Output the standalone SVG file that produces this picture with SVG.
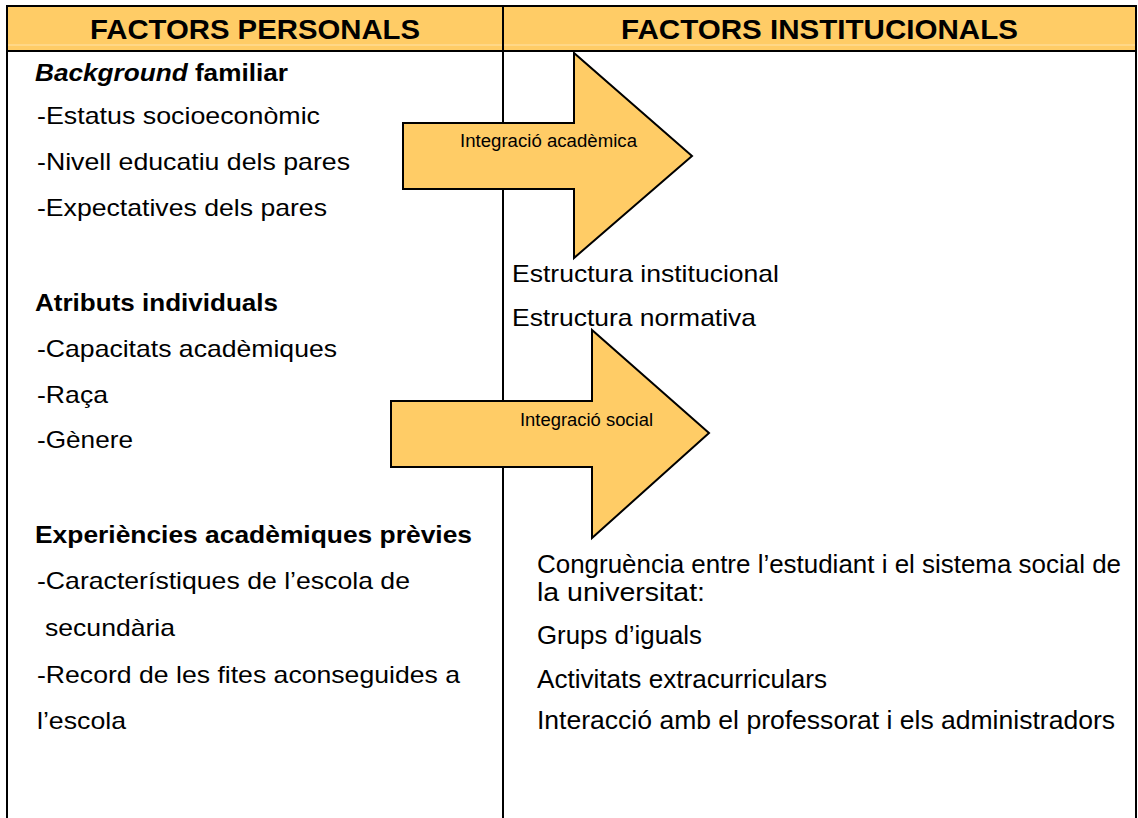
<svg xmlns="http://www.w3.org/2000/svg" width="1138" height="818" viewBox="0 0 1138 818">
<style>
text{font-family:"Liberation Sans",Arial,sans-serif;fill:#000}
.hd{font-size:28px;font-weight:bold}
.b{font-size:24px}
.bb{font-size:24px;font-weight:bold}
.r{font-size:26px}
.ar{font-size:17.5px}
.arrow{fill:#FFCC66;stroke:#000;stroke-width:2;stroke-linejoin:miter}
.grid{stroke:#000;stroke-width:2;fill:none}
</style>
<rect x="0" y="0" width="1138" height="818" fill="#fff"/>
<g id="table">
<rect x="7" y="6" width="1129" height="45" fill="#FFCC66"/>
<line x1="8" y1="45" x2="1135" y2="45" stroke="#FFE3A8" stroke-width="1"/>
<path class="grid" d="M7 818 V6 H1136 V818 M7 51 H1136 M503 6 V818"/>
</g>
<g id="header-personals"><text class="hd" x="90" y="39" textLength="330" lengthAdjust="spacingAndGlyphs">FACTORS PERSONALS</text></g>
<g id="header-institucionals"><text class="hd" x="621" y="39" textLength="397" lengthAdjust="spacingAndGlyphs">FACTORS INSTITUCIONALS</text></g>
<g id="personals">
<text class="bb" x="35" y="81" textLength="253" lengthAdjust="spacingAndGlyphs"><tspan font-style="italic">Background</tspan> familiar</text>
<text class="b" x="37" y="124" textLength="283" lengthAdjust="spacingAndGlyphs">-Estatus socioeconòmic</text>
<text class="b" x="37" y="170" textLength="313" lengthAdjust="spacingAndGlyphs">-Nivell educatiu dels pares</text>
<text class="b" x="37" y="216" textLength="290" lengthAdjust="spacingAndGlyphs">-Expectatives dels pares</text>
<text class="bb" x="35" y="311" textLength="243" lengthAdjust="spacingAndGlyphs">Atributs individuals</text>
<text class="b" x="37" y="357" textLength="300" lengthAdjust="spacingAndGlyphs">-Capacitats acadèmiques</text>
<text class="b" x="37" y="403" textLength="71" lengthAdjust="spacingAndGlyphs">-Raça</text>
<text class="b" x="37" y="448" textLength="96" lengthAdjust="spacingAndGlyphs">-Gènere</text>
<text class="bb" x="35" y="543" textLength="437" lengthAdjust="spacingAndGlyphs">Experiències acadèmiques prèvies</text>
<text class="b" x="37" y="589" textLength="373" lengthAdjust="spacingAndGlyphs">-Característiques de l’escola de</text>
<text class="b" x="45" y="636" textLength="130" lengthAdjust="spacingAndGlyphs">secundària</text>
<text class="b" x="37" y="683" textLength="423" lengthAdjust="spacingAndGlyphs">-Record de les fites aconseguides a</text>
<text class="b" x="37" y="729" textLength="89" lengthAdjust="spacingAndGlyphs">l’escola</text>
</g>
<g id="institucionals">
<text class="b" x="512" y="282" textLength="267" lengthAdjust="spacingAndGlyphs">Estructura institucional</text>
<text class="b" x="512" y="326" textLength="244" lengthAdjust="spacingAndGlyphs">Estructura normativa</text>
<text class="r" x="537" y="573" textLength="584" lengthAdjust="spacingAndGlyphs">Congruència entre l’estudiant i el sistema social de</text>
<text class="r" x="537" y="601" textLength="168" lengthAdjust="spacingAndGlyphs">la universitat:</text>
<text class="r" x="537" y="644" textLength="165" lengthAdjust="spacingAndGlyphs">Grups d’iguals</text>
<text class="r" x="537" y="688" textLength="290" lengthAdjust="spacingAndGlyphs">Activitats extracurriculars</text>
<text class="r" x="537" y="729" textLength="578" lengthAdjust="spacingAndGlyphs">Interacció amb el professorat i els administradors</text>
</g>
<g id="connectors">
<g id="arrow-academica">
<path class="arrow" d="M403 123 H574 V53 L692 156 L574 258 V189 H403 Z"/>
<text class="ar" x="460" y="147" textLength="177" lengthAdjust="spacingAndGlyphs">Integració acadèmica</text>
</g>
<g id="arrow-social">
<path class="arrow" d="M391 401 H592 V330 L709 433 L592 538 V467 H391 Z"/>
<text class="ar" x="520" y="426" textLength="133" lengthAdjust="spacingAndGlyphs">Integració social</text>
</g>
</g>
</svg>
